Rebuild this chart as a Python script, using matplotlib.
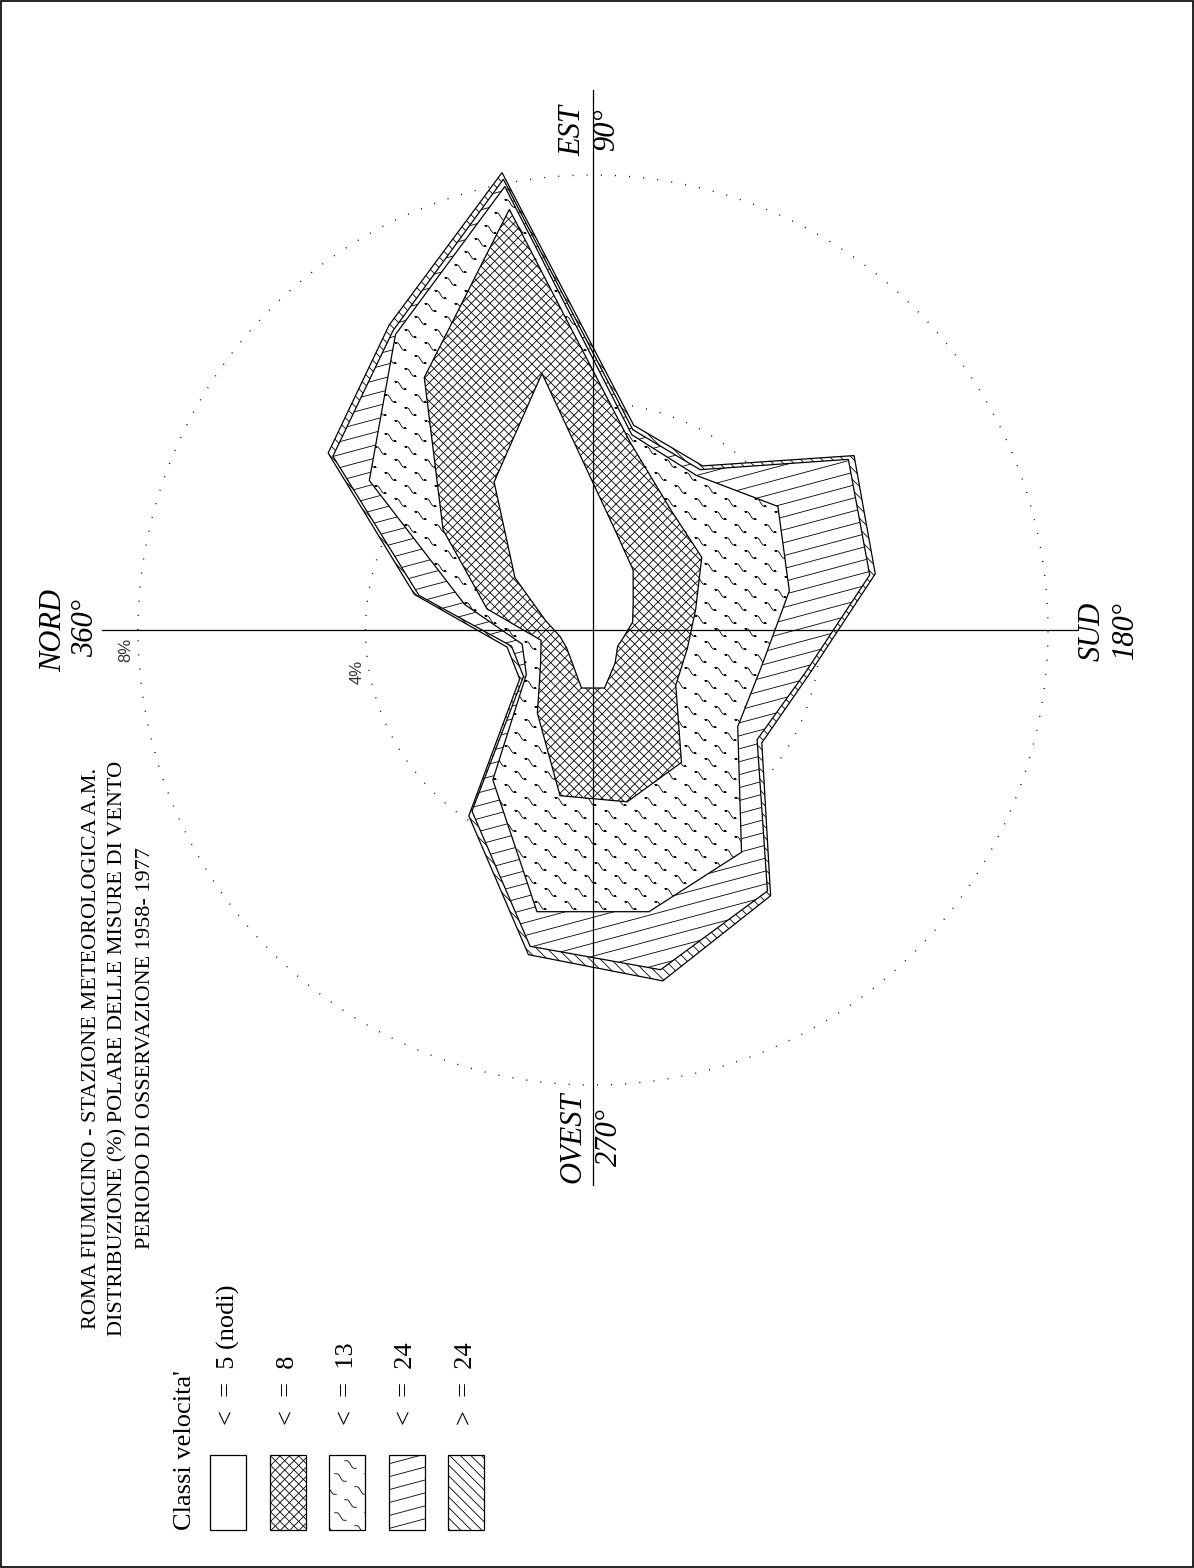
import numpy as np
import matplotlib.pyplot as plt
from matplotlib.path import Path
from matplotlib.lines import Line2D
from matplotlib.patches import Rectangle
from matplotlib.collections import LineCollection
from matplotlib.transforms import IdentityTransform

W, H, DPI = 1194, 1568, 100

# direzioni dei settori (gradi da nord, senso orario)
directions = [11.25 + 22.5 * k for k in range(16)]

# frequenze cumulate (%) per classe di velocita' (nodi)
freq_le5 = [0.85, 1.65, 3.13, 4.60, 1.85, 1.27, 0.85, 0.71,
            0.56, 0.52, 0.70, 1.04, 1.04, 0.67, 0.56, 0.59]
freq_le8 = [1.90, 3.17, 5.34, 7.54, 3.36, 2.50, 2.30, 1.84,
            1.69, 1.75, 2.80, 3.08, 2.97, 1.76, 1.11, 0.93]
freq_le13 = [2.30, 4.73, 6.25, 7.95, 3.50, 3.27, 3.91, 3.52,
             3.04, 3.06, 4.70, 5.05, 5.05, 3.17, 1.41, 1.27]
freq_le24 = [3.12, 5.50, 6.33, 8.08, 3.59, 3.39, 5.40, 4.96,
             3.81, 3.47, 5.52, 6.09, 5.67, 3.83, 1.47, 1.46]
freq_all = [3.20, 5.60, 6.45, 8.20, 3.67, 3.47, 5.52, 5.06,
            3.89, 3.57, 5.62, 6.29, 5.82, 3.93, 1.55, 1.54]

rings = [4, 8]
class_labels = ["<  =  5 (nodi)", "<  =  8", "<  =  13", "<  =  24", ">  =  24"]
title_lines = ["ROMA FIUMICINO - STAZIONE METEOROLOGICA A.M.",
               "DISTRIBUZIONE (%) POLARE DELLE MISURE DI VENTO",
               "PERIODO DI OSSERVAZIONE 1958- 1977"]

plt.rcParams['font.family'] = ['Liberation Serif', 'DejaVu Serif']

# segno del tratteggio a "onde"
wave = Path([(-1, 0.6), (-0.55, 0.6), (-0.15, 0.6), (0.15, -0.6),
             (0.55, -0.6), (1, -0.6)],
            [Path.MOVETO, Path.LINETO, Path.CURVE4, Path.CURVE4,
             Path.CURVE4, Path.LINETO])


def extents(patch):
    return patch.get_transform().transform_path(patch.get_path()).get_extents()


def hatch_lines(host, patch, angle, spacing, z, lw=0.6):
    ext = extents(patch)
    a = np.deg2rad(angle)
    d = np.array([np.cos(a), np.sin(a)])
    n = np.array([-d[1], d[0]])
    corners = np.array([[ext.x0, ext.y0], [ext.x1, ext.y0],
                        [ext.x0, ext.y1], [ext.x1, ext.y1]])
    pn, pd = corners @ n, corners @ d
    offs = np.arange(np.floor(pn.min() / spacing) * spacing, pn.max() + spacing, spacing)
    segs = [[o * n + pd.min() * d, o * n + pd.max() * d] for o in offs]
    lc = LineCollection(segs, colors='k', linewidths=lw,
                        transform=IdentityTransform(), zorder=z)
    host.add_collection(lc, autolim=False)
    lc.set_clip_path(patch)


def hatch_waves(host, patch, z, dx=30, dy=13, shift=10):
    ext = extents(patch)
    xs, ys = [], []
    for j in range(int(np.floor(ext.y0 / dy)) - 1, int(np.ceil(ext.y1 / dy)) + 2):
        off = (j * shift) % dx
        row = np.arange(np.floor(ext.x0 / dx) * dx - dx + off, ext.x1 + dx, dx)
        xs.extend(row)
        ys.extend([j * dy] * len(row))
    ln = Line2D(xs, ys, ls='none', marker=wave, ms=9, mfc='none', mec='k',
                mew=0.6, transform=IdentityTransform(), zorder=z)
    host.add_line(ln)
    ln.set_clip_path(patch)


def apply_hatch(host, patch, kind, z):
    if kind == 'cross':
        hatch_lines(host, patch, 45, 6.6, z)
        hatch_lines(host, patch, -45, 6.6, z)
    elif kind == 'wave':
        hatch_waves(host, patch, z)
    elif kind == 'shallow':
        hatch_lines(host, patch, 15, 12.5, z)
    elif kind == 'back':
        hatch_lines(host, patch, -45, 7.5, z)


fig = plt.figure(figsize=(W / DPI, H / DPI), dpi=DPI)

# assi "pagina" in pixel: cornice, titolo, legenda
page = fig.add_axes([0, 0, 1, 1])
page.set_xlim(0, W)
page.set_ylim(H, 0)
page.axis('off')
page.add_patch(Rectangle((1, 1), W - 2, H - 2, fill=False, ec='k', lw=1.2))

# rosa dei venti (nord a sinistra, est in alto)
cx, cy, scale, rmax = 593, 630, 455 / 8, 10.0
rad = rmax * scale
ax = fig.add_axes([(cx - rad) / W, (H - cy - rad) / H, 2 * rad / W, 2 * rad / H],
                  projection='polar')
ax.set_theta_zero_location('W')
ax.set_theta_direction(-1)
ax.set_ylim(0, rmax)
ax.axis('off')

tt = np.linspace(0, 2 * np.pi, 600)
for r in rings:
    ax.plot(tt, np.full_like(tt, r), color='k', lw=1.0, ls=(0, (0.7, 9.5)), zorder=1)

theta = np.deg2rad(directions + directions[:1])
layers = [(freq_all, 'back'), (freq_le24, 'shallow'), (freq_le13, 'wave'),
          (freq_le8, 'cross'), (freq_le5, None)]
for i, (vals, kind) in enumerate(layers):
    z = 2 + 2 * i
    poly = ax.fill(theta, list(vals) + [vals[0]], facecolor='white',
                   edgecolor='k', lw=0.9, zorder=z)[0]
    if kind:
        apply_hatch(ax, poly, kind, z + 0.5)

# assi cardinali
ax.plot([0, np.pi], [8.63, 8.51], color='k', lw=0.9, zorder=20)
ax.plot([np.pi / 2, 3 * np.pi / 2], [9.49, 9.76], color='k', lw=0.9, zorder=20)

lab = dict(rotation=90, ha='center', va='center', fontsize=22, style='italic')
page.text(54, 630, "NORD", **lab)
page.text(86, 628, "360°", **lab)
page.text(573, 131, "EST", **lab)
page.text(607, 130, "90°", **lab)
page.text(1092, 631, "SUD", **lab)
page.text(1125, 630, "180°", **lab)
page.text(573, 1137, "OVEST", **lab)
page.text(609, 1137, "270°", **lab)
page.text(126, 650, "8%", rotation=90, ha='center', va='center', fontsize=12,
          family='Liberation Sans', color='#333333')
page.text(357, 672, "4%", rotation=90, ha='center', va='center', fontsize=12,
          family='Liberation Sans', color='#333333')

# titolo
for x, line in zip([92, 118, 145], title_lines):
    page.text(x, 1048, line, rotation=90, ha='center', va='center', fontsize=16)

# legenda
page.text(185, 1530, "Classi velocita'", rotation=90, ha='center', va='bottom', fontsize=19)
kinds = [None, 'cross', 'wave', 'shallow', 'back']
for i, (label, kind) in enumerate(zip(class_labels, kinds)):
    x = 228 + 59.5 * i
    box = Rectangle((x - 18, 1455), 36, 75, facecolor='white', edgecolor='k', lw=0.9, zorder=3)
    page.add_patch(box)
    if kind:
        apply_hatch(page, box, kind, 3.5)
    page.text(x, 1425, label, rotation=90, ha='center', va='bottom', fontsize=19)

fig.savefig("out.png", dpi=DPI)
